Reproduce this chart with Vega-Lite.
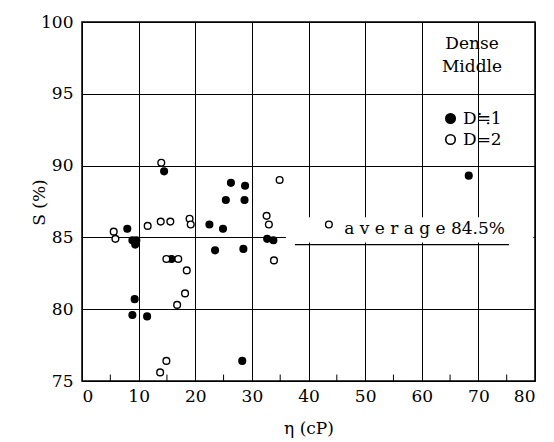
{
  "$schema": "https://vega.github.io/schema/vega-lite/v6.json",
  "width": 453,
  "height": 359,
  "autosize": {"type": "none"},
  "padding": {"left": 82, "top": 22, "right": 19, "bottom": 61},
  "background": "white",
  "config": {
    "font": "DejaVu Serif",
    "view": {"stroke": "black", "strokeWidth": 1.5},
    "axis": {
      "grid": true, "gridColor": "black", "gridOpacity": 1, "gridWidth": 1,
      "domain": false, "ticks": false,
      "labelFont": "DejaVu Serif", "labelFontSize": 17, "labelColor": "black",
      "titleFont": "DejaVu Serif", "titleFontSize": 17, "titleFontWeight": "normal", "titleColor": "black"
    }
  },
  "datasets": {
    "pts": [
      {"eta": 8.0, "S": 85.6, "D": "D≒1"},
      {"eta": 8.9, "S": 84.8, "D": "D≒1"},
      {"eta": 9.6, "S": 84.8, "D": "D≒1"},
      {"eta": 9.4, "S": 84.5, "D": "D≒1"},
      {"eta": 9.3, "S": 80.7, "D": "D≒1"},
      {"eta": 8.9, "S": 79.6, "D": "D≒1"},
      {"eta": 11.5, "S": 79.5, "D": "D≒1"},
      {"eta": 14.5, "S": 89.6, "D": "D≒1"},
      {"eta": 15.8, "S": 83.5, "D": "D≒1"},
      {"eta": 22.5, "S": 85.9, "D": "D≒1"},
      {"eta": 23.5, "S": 84.1, "D": "D≒1"},
      {"eta": 24.9, "S": 85.6, "D": "D≒1"},
      {"eta": 25.4, "S": 87.6, "D": "D≒1"},
      {"eta": 26.3, "S": 88.8, "D": "D≒1"},
      {"eta": 28.8, "S": 88.6, "D": "D≒1"},
      {"eta": 28.7, "S": 87.6, "D": "D≒1"},
      {"eta": 28.5, "S": 84.2, "D": "D≒1"},
      {"eta": 32.7, "S": 84.9, "D": "D≒1"},
      {"eta": 33.8, "S": 84.8, "D": "D≒1"},
      {"eta": 28.3, "S": 76.4, "D": "D≒1"},
      {"eta": 68.3, "S": 89.3, "D": "D≒1"},
      {"eta": 14.0, "S": 90.2, "D": "D=2"},
      {"eta": 5.6, "S": 85.4, "D": "D=2"},
      {"eta": 5.9, "S": 84.9, "D": "D=2"},
      {"eta": 11.6, "S": 85.8, "D": "D=2"},
      {"eta": 13.9, "S": 86.1, "D": "D=2"},
      {"eta": 15.6, "S": 86.1, "D": "D=2"},
      {"eta": 19.0, "S": 86.3, "D": "D=2"},
      {"eta": 19.2, "S": 85.9, "D": "D=2"},
      {"eta": 14.9, "S": 83.5, "D": "D=2"},
      {"eta": 17.0, "S": 83.5, "D": "D=2"},
      {"eta": 18.5, "S": 82.7, "D": "D=2"},
      {"eta": 18.2, "S": 81.1, "D": "D=2"},
      {"eta": 16.8, "S": 80.3, "D": "D=2"},
      {"eta": 14.9, "S": 76.4, "D": "D=2"},
      {"eta": 13.8, "S": 75.6, "D": "D=2"},
      {"eta": 34.9, "S": 89.0, "D": "D=2"},
      {"eta": 32.6, "S": 86.5, "D": "D=2"},
      {"eta": 33.0, "S": 85.9, "D": "D=2"},
      {"eta": 33.9, "S": 83.4, "D": "D=2"},
      {"eta": 43.6, "S": 85.9, "D": "D=2"}
    ]
  },
  "layer": [
    {
      "data": {"values": [{"x": 36, "x2": 79.7, "y": 84.65, "y2": 86.4}]},
      "mark": {"type": "rect", "fill": "white"},
      "encoding": {
        "x": {"field": "x", "type": "quantitative"},
        "x2": {"field": "x2"},
        "y": {"field": "y", "type": "quantitative"},
        "y2": {"field": "y2"}
      }
    },
    {
      "data": {"values": [{"x": 5}, {"x": 15}, {"x": 25}, {"x": 35}, {"x": 45}, {"x": 55}, {"x": 65}, {"x": 75}]},
      "mark": {"type": "rule", "color": "black", "strokeWidth": 1},
      "encoding": {
        "x": {"field": "x", "type": "quantitative"},
        "y": {"datum": 75},
        "y2": {"datum": 75.45}
      }
    },
    {
      "data": {"values": [{"x": 37.6, "x2": 75.4, "y": 84.5}]},
      "mark": {"type": "rule", "color": "black", "strokeWidth": 1.2},
      "encoding": {
        "x": {"field": "x", "type": "quantitative"},
        "x2": {"field": "x2"},
        "y": {"field": "y", "type": "quantitative"}
      }
    },
    {
      "data": {"values": [{"x": 60.5, "y": 85.6, "t": "a v e r a g e  84.5%"}]},
      "mark": {"type": "text", "font": "DejaVu Serif", "fontSize": 17, "color": "black"},
      "encoding": {
        "x": {"field": "x", "type": "quantitative"},
        "y": {"field": "y", "type": "quantitative"},
        "text": {"field": "t"}
      }
    },
    {
      "data": {"name": "pts"},
      "mark": {"type": "point", "shape": "circle", "stroke": "black", "strokeWidth": 1.4, "size": 45, "opacity": 1},
      "encoding": {
        "x": {
          "field": "eta", "type": "quantitative",
          "scale": {"domain": [0, 80], "nice": false, "zero": false},
          "axis": {"values": [0, 10, 20, 30, 40, 50, 60, 70, 80], "title": "η (cP)", "labelPadding": 7, "titlePadding": 16}
        },
        "y": {
          "field": "S", "type": "quantitative",
          "scale": {"domain": [75, 100], "nice": false, "zero": false},
          "axis": {"values": [75, 80, 85, 90, 95, 100], "title": "S (%)", "labelPadding": 9, "titleX": -34, "titleY": 180}
        },
        "fill": {
          "field": "D", "type": "nominal",
          "scale": {"domain": ["D≒1", "D=2"], "range": ["black", "white"]},
          "legend": {
            "title": ["Dense", "Middle"],
            "orient": "none", "legendX": 360, "legendY": 14,
            "titleFont": "DejaVu Serif", "titleFontSize": 17, "titleFontWeight": "normal",
            "titleAlign": "center", "titleAnchor": "middle", "titlePadding": 34, "titleLineHeight": 23,
            "labelFont": "DejaVu Serif", "labelFontSize": 17, "labelColor": "black",
            "symbolStrokeColor": "black", "symbolStrokeWidth": 1.6, "symbolSize": 90,
            "rowPadding": 3, "labelOffset": 4
          }
        }
      }
    }
  ]
}
